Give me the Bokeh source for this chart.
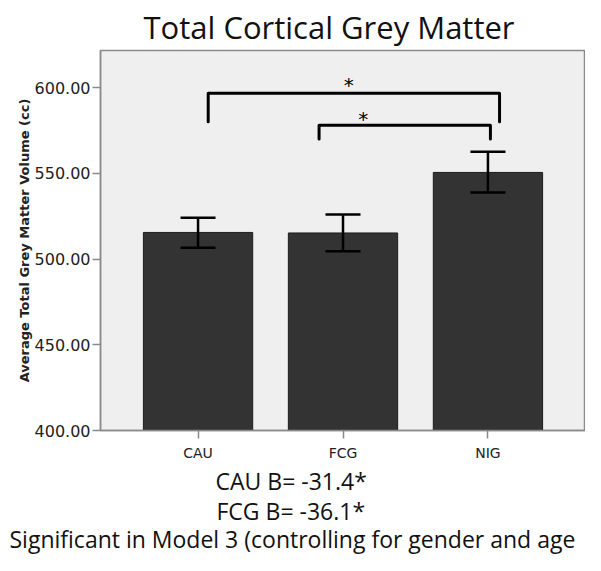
from bokeh.plotting import figure
from bokeh.models import (Range1d, FixedTicker, NumeralTickFormatter, Whisker,
                          ColumnDataSource, TeeHead, Title)
from bokeh.embed import file_html
from bokeh.resources import INLINE
from bokeh.core.properties import value

# ---- data ----
categories = ["CAU", "FCG", "NIG"]
means = [515.5, 515.2, 550.5]
upper = [524.0, 526.0, 562.5]
lower = [506.6, 504.5, 538.8]
y_ticks = [400, 450, 500, 550, 600]
comparisons = [("CAU", "NIG"), ("FCG", "NIG")]
notes = ["CAU B= -31.4*", "FCG B= -36.1*",
         "Significant in Model 3 (controlling for gender and age"]
title_text = "Total Cortical Grey Matter"
y_label = "Average Total Grey Matter Volume (cc)"

xpos = [i + 1 for i in range(len(categories))]
pos = dict(zip(categories, xpos))
src = ColumnDataSource(dict(x=xpos, top=means, upper=upper, lower=lower))

YMIN, YMAX = 400, 621.6
p = figure(width=585, height=555, output_backend="svg", toolbar_location=None,
           x_range=Range1d(0.327, 3.673), y_range=Range1d(YMIN, YMAX),
           min_border_left=100, min_border_right=0, min_border_top=50,
           min_border_bottom=125)

p.background_fill_color = "#efefef"
p.border_fill_color = "white"
p.outline_line_color = "#8a8a8a"
p.outline_line_width = 1.5
p.grid.visible = False

p.vbar(x="x", top="top", bottom=YMIN, width=0.754, source=src,
       fill_color="#333333", line_color="#1c1c1c", line_width=1)

w = Whisker(base="x", upper="upper", lower="lower", source=src,
            line_color="black", line_width=2.5, level="overlay",
            upper_head=TeeHead(size=35, line_width=2.5, line_color="black"),
            lower_head=TeeHead(size=35, line_width=2.5, line_color="black"))
p.add_layout(w)

# significance brackets
bracket_specs = [(0.07, 0.08, 596.6, 580.0, 2.04, 601.5),
                 (-0.165, 0.017, 578.0, 570.0, 2.14, 581.5)]
for (a, b), (da, db, ytop, yleg, sx, sy) in zip(comparisons, bracket_specs):
    x0 = pos[a] + da
    x1 = pos[b] + db
    p.line([x0, x0, x1, x1], [yleg, ytop, ytop, yleg], line_color="black",
           line_width=3, line_join="round", line_cap="round")
    p.text(x=[sx], y=[sy], text=["*"], text_font=value("DejaVu Sans"),
           text_font_size="20px", text_align="center", text_baseline="middle",
           text_color="black")

# axes
p.yaxis.ticker = FixedTicker(ticks=y_ticks)
p.yaxis.formatter = NumeralTickFormatter(format="0.00")
p.yaxis.axis_label = y_label
p.yaxis.axis_label_text_font = "DejaVu Sans"
p.yaxis.axis_label_text_font_style = "bold"
p.yaxis.axis_label_text_font_size = "13px"
p.yaxis.axis_label_text_color = "#222222"
p.yaxis.axis_label_standoff = 0
p.xaxis.ticker = FixedTicker(ticks=xpos)
p.xaxis.major_label_overrides = {x: c for x, c in zip(xpos, categories)}
for ax in (p.xaxis, p.yaxis):
    ax.axis_line_color = "#8a8a8a"
    ax.axis_line_width = 1.5
    ax.major_tick_line_color = "#8a8a8a"
    ax.major_tick_line_width = 1.5
    ax.major_tick_out = 8
    ax.major_tick_in = 0
    ax.minor_tick_line_color = None
    ax.major_label_text_font = "DejaVu Sans"
    ax.major_label_text_color = "#222222"
p.yaxis.major_label_text_font_size = "16px"
p.xaxis.major_label_text_font_size = "14px"
p.yaxis.major_label_standoff = 2
p.xaxis.major_label_standoff = 6

# title
p.title.text = title_text
p.title.text_font = "Open Sans"
p.title.text_font_size = "31px"
p.title.text_font_style = "normal"
p.title.text_color = "#111111"
p.title.align = "left"
p.title.offset = 43
p.title.standoff = 6

# notes below the chart
for t, off, so in zip(notes, [115, 116, -91], [-2, -6, -6]):
    p.add_layout(Title(text=t, align="left", offset=off, standoff=so,
                       text_font="Open Sans", text_font_size="23px",
                       text_font_style="normal", text_color="#111111"),
                 "below")

open("out.html", "w").write(file_html(p, INLINE))
